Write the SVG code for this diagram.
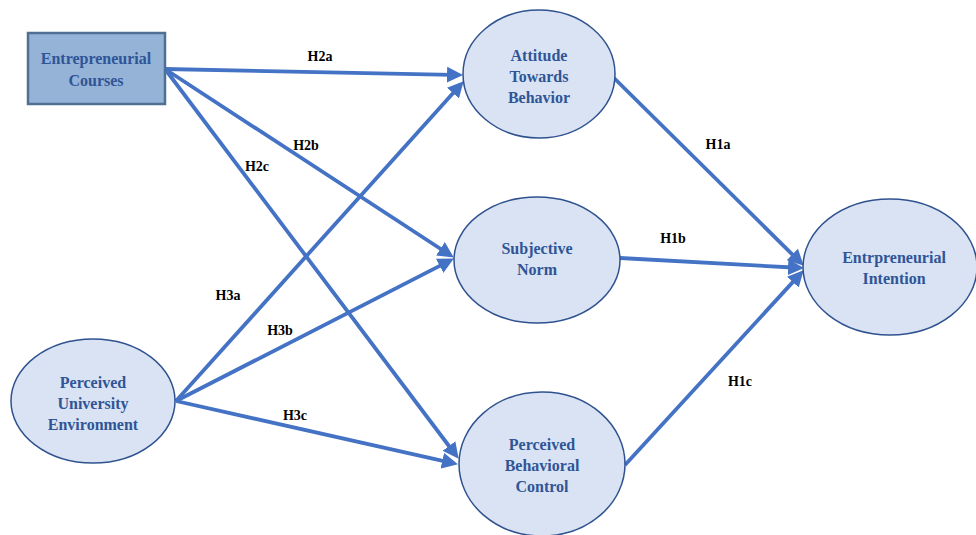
<svg xmlns="http://www.w3.org/2000/svg" width="976" height="535" viewBox="0 0 976 535">
<style>
.conn{stroke:#4472c4;stroke-width:3.8;fill:none;marker-end:url(#ah)}
.ell{fill:#dae3f3;stroke:#2f528f;stroke-width:1.5}
.box{fill:#95b3d7;stroke:#4f6f94;stroke-width:2.5}
.nt{font-family:'Times New Roman','Liberation Serif','DejaVu Serif Condensed','DejaVu Serif',serif;font-weight:bold;font-size:16px;fill:#2f5597;text-anchor:middle}
.lb{font-family:'Times New Roman','Liberation Serif','DejaVu Serif Condensed','DejaVu Serif',serif;font-weight:bold;font-size:14px;fill:#000;text-anchor:middle}
</style>
<defs>
<marker id="ah" markerUnits="userSpaceOnUse" markerWidth="18" markerHeight="16" viewBox="0 0 18 16" refX="5" refY="8" orient="auto">
<path d="M0,0 L16,8 L0,16 z" fill="#4472c4"/>
</marker>
</defs>
<rect width="976" height="535" fill="#ffffff"/>
<g id="connectors">
<line class="conn" x1="165" y1="69" x2="452" y2="74.8"/>
<line class="conn" x1="165" y1="69" x2="444.6" y2="251.5"/>
<line class="conn" x1="165" y1="69" x2="452" y2="450"/>
<line class="conn" x1="176" y1="401" x2="456.3" y2="89.4"/>
<line class="conn" x1="176" y1="401" x2="444.1" y2="263.6"/>
<line class="conn" x1="176" y1="401" x2="447.2" y2="461.8"/>
<line class="conn" x1="614" y1="78" x2="795.9" y2="258"/>
<line class="conn" x1="620" y1="258" x2="793" y2="267.5"/>
<line class="conn" x1="625" y1="465" x2="796.2" y2="278.4"/>
</g>
<g id="labels">
<text class="lb" x="320" y="61">H2a</text>
<text class="lb" x="306" y="150">H2b</text>
<text class="lb" x="257" y="171">H2c</text>
<text class="lb" x="228" y="300">H3a</text>
<text class="lb" x="280" y="335">H3b</text>
<text class="lb" x="295" y="420">H3c</text>
<text class="lb" x="718" y="149">H1a</text>
<text class="lb" x="673" y="243">H1b</text>
<text class="lb" x="740" y="386">H1c</text>
</g>
<g id="entrepreneurial-courses">
<rect class="box" x="28" y="33" width="137" height="71"/>
<text class="nt" x="96" y="64">Entrepreneurial</text>
<text class="nt" x="96" y="86">Courses</text>
</g>
<g id="attitude">
<ellipse class="ell" cx="539" cy="74" rx="76" ry="64"/>
<text class="nt" x="539" y="61">Attitude</text>
<text class="nt" x="539" y="82">Towards</text>
<text class="nt" x="539" y="103">Behavior</text>
</g>
<g id="subjective-norm">
<ellipse class="ell" cx="537" cy="260" rx="83" ry="63"/>
<text class="nt" x="537" y="254">Subjective</text>
<text class="nt" x="537" y="275">Norm</text>
</g>
<g id="pbc">
<ellipse class="ell" cx="542" cy="464" rx="83" ry="72"/>
<text class="nt" x="542" y="450">Perceived</text>
<text class="nt" x="542" y="471">Behavioral</text>
<text class="nt" x="542" y="492">Control</text>
</g>
<g id="pue">
<ellipse class="ell" cx="93" cy="401" rx="82" ry="62"/>
<text class="nt" x="93" y="388">Perceived</text>
<text class="nt" x="93" y="409">University</text>
<text class="nt" x="93" y="430">Environment</text>
</g>
<g id="intention">
<ellipse class="ell" cx="890" cy="267" rx="87" ry="68"/>
<text class="nt" x="894" y="263">Entrpreneurial</text>
<text class="nt" x="894" y="284">Intention</text>
</g>
</svg>
